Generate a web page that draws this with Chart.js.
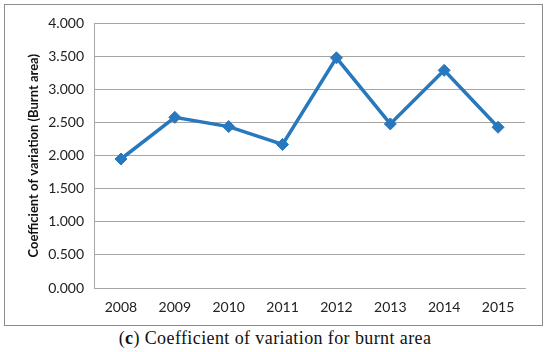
<!DOCTYPE html>
<html>
<head>
<meta charset="utf-8">
<script src="https://cdn.jsdelivr.net/npm/chart.js@4/dist/chart.umd.min.js"></script>
<style>
  html, body { margin: 0; padding: 0; background: #fff; }
  body { width: 550px; height: 352px; position: relative; overflow: hidden; }
  #box { position: absolute; left: 4px; top: 4px; width: 537px; height: 320px; border: 1px solid #8c8c8c; }
  #box canvas { display: block; }
  #caption { position: absolute; left: 0; width: 550px; top: 328px; text-align: center;
    font-family: "Liberation Serif", "DejaVu Serif", serif; font-size: 18px; letter-spacing: 0.4px; color: #111; }
</style>
</head>
<body>
<div id="box"><canvas id="cv" width="537" height="320"></canvas></div>
<div id="caption">(<b>c</b>) Coefficient of variation for burnt area</div>
<script>
// Werte
var years = ['2008', '2009', '2010', '2011', '2012', '2013', '2014', '2015'];
var cvBurnt = [1.95, 2.58, 2.44, 2.17, 3.48, 2.48, 3.29, 2.43];
var yTicks = { min: 0, max: 4, step: 0.5 };

var lineBlue = '#2878bd';
var gridGray = '#a6a6a6';

new Chart(document.getElementById('cv').getContext('2d'), {
  type: 'line',
  data: {
    labels: years,
    datasets: [{
      label: 'CV',
      data: cvBurnt,
      borderColor: lineBlue,
      backgroundColor: lineBlue,
      borderWidth: 3.5,
      tension: 0,
      fill: false,
      pointStyle: 'rectRot',
      pointRadius: 6,
      pointBorderWidth: 1
    }]
  },
  options: {
    responsive: false,
    animation: false,
    layout: { padding: { left: 0, right: 17, top: 15, bottom: 10 } },
    plugins: { legend: { display: false }, tooltip: { enabled: false } },
    scales: {
      x: {
        offset: true,
        grid: { display: false, drawTicks: false },
        border: { display: true, color: gridGray, width: 1 },
        ticks: { padding: 11, color: '#222', font: { family: 'Lato', size: 14 } },
        afterFit: function (scale) { scale.height = 27; }
      },
      y: {
        min: yTicks.min,
        max: yTicks.max,
        grid: { color: gridGray, lineWidth: 1, drawTicks: false },
        border: { display: true, color: gridGray, width: 1 },
        ticks: {
          stepSize: yTicks.step,
          padding: 10,
          color: '#222',
          font: { family: 'Lato', size: 14 },
          callback: function (v) { return v.toFixed(3); }
        },
        title: {
          display: true,
          text: 'Coefficient of variation (Burnt area)',
          color: '#111',
          font: { family: 'Lato', size: 13, weight: 'bold' },
          padding: { top: 21, bottom: 0 }
        },
        afterFit: function (scale) { scale.width = 89; }
      }
    }
  }
});
</script>
</body>
</html>
